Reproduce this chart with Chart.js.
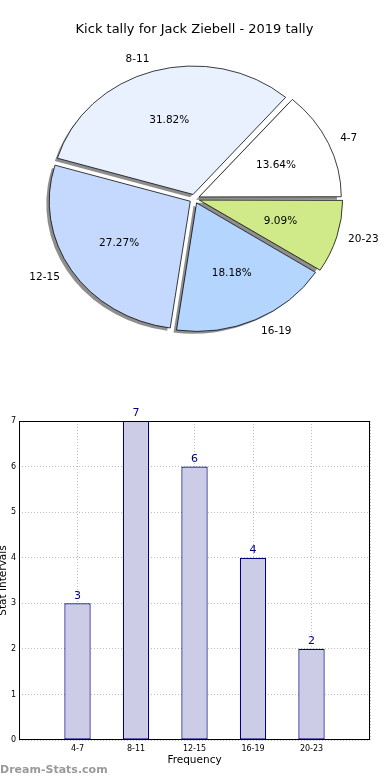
<!DOCTYPE html>
<html>
<head>
<meta charset="utf-8">
<script src="https://cdn.jsdelivr.net/npm/chart.js@4/dist/chart.umd.min.js"></script>
<style>
  body { margin: 0; background: #fff; width: 390px; height: 780px; position: relative; overflow: hidden; }
  #pieBox { position: absolute; left: 0; top: 0; width: 390px; height: 400px; }
  #barBox { position: absolute; left: 0; top: 400px; width: 390px; height: 380px; }
  #mark { position: absolute; left: 0; top: 763px; font: bold 11px "DejaVu Sans", sans-serif; color: #9a9a9a; }
</style>
</head>
<body>
<div id="pieBox"><canvas id="pieChart" width="390" height="400"></canvas></div>
<div id="barBox"><canvas id="barChart" width="390" height="380"></canvas></div>
<div id="mark">Dream-Stats.com</div>
<script>
// ---- data ----
const intervals = ['4-7', '8-11', '12-15', '16-19', '20-23'];
const tallies = [3, 7, 6, 4, 2];
const pieColors = ['#ffffff', '#eaf1fe', '#c5d9fe', '#b4d6fe', '#d0ea8a'];
const yTicks = [0, 1, 2, 3, 4, 5, 6, 7];

const FONT = '"DejaVu Sans", sans-serif';
const total = tallies.reduce((a, b) => a + b, 0);

// pie goes counter-clockwise from east, chart.js goes clockwise -> reverse
const pieLabels = intervals.slice().reverse();
const pieValues = tallies.slice().reverse();
const pieBg = pieColors.slice().reverse();

const squash = 0.908;   // pie is drawn a bit flat
const explode = 20;     // chart.js moves the arc by offset/4

// shadows + flattening for the pie
const pieDecor = {
    id: 'pieDecor',
    beforeDatasetsDraw(chart) {
        const ctx = chart.ctx;
        const arcs = chart.getDatasetMeta(0).data;
        const cx = arcs[0].x, cy = arcs[0].y;
        ctx.save();
        ctx.translate(cx, cy);
        ctx.scale(1, squash);
        ctx.translate(-cx, -cy);
        // shadows under every wedge
        ctx.save();
        ctx.translate(-3, 3);
        ctx.fillStyle = '#8e8e8e';
        arcs.forEach(a => {
            const mid = (a.startAngle + a.endAngle) / 2;
            const o = explode / 4;
            const x = a.x + Math.cos(mid) * o, y = a.y + Math.sin(mid) * o;
            ctx.beginPath();
            ctx.moveTo(x, y);
            ctx.arc(x, y, a.outerRadius, a.startAngle, a.endAngle);
            ctx.closePath();
            ctx.fill();
        });
        ctx.restore();
    },
    afterDatasetsDraw(chart) {
        const ctx = chart.ctx;
        ctx.restore();
        const arcs = chart.getDatasetMeta(0).data;
        ctx.save();
        ctx.fillStyle = '#000';
        ctx.textBaseline = 'middle';
        arcs.forEach((a, i) => {
            const mid = (a.startAngle + a.endAngle) / 2;
            const o = explode / 4;
            const pos = k => ({
                x: a.x + (a.outerRadius * k + o) * Math.cos(mid),
                y: a.y + (a.outerRadius * k + o) * Math.sin(mid) * squash
            });
            ctx.font = '10.5px ' + FONT;
            const p = pos(0.6);
            ctx.textAlign = 'center';
            ctx.fillText((pieValues[i] / total * 100).toFixed(2) + '%', p.x, p.y);
            const l = pos(1.1);
            ctx.textAlign = Math.cos(mid) >= 0 ? 'left' : 'right';
            ctx.fillText(pieLabels[i], l.x, l.y);
        });
        ctx.restore();
    }
};

new Chart(document.getElementById('pieChart'), {
    type: 'pie',
    data: {
        labels: pieLabels,
        datasets: [{
            data: pieValues,
            backgroundColor: pieBg,
            borderColor: '#000',
            borderWidth: 0.8,
            borderJoinStyle: 'miter',
            offset: explode
        }]
    },
    options: {
        responsive: false,
        animation: false,
        devicePixelRatio: 1,
        rotation: 90,
        radius: 141,
        layout: { padding: { left: 0, right: 1, top: 0, bottom: 49 } },
        plugins: {
            legend: { display: false },
            tooltip: { enabled: false },
            title: {
                display: true,
                text: 'Kick tally for Jack Ziebell - 2019 tally',
                color: '#000',
                font: { family: FONT, size: 13, weight: 'normal' },
                padding: { top: 22, bottom: 9 }
            }
        }
    },
    plugins: [pieDecor]
});

// frame + value labels for the bars
const barDecor = {
    id: 'barDecor',
    afterDatasetsDraw(chart) {
        const ctx = chart.ctx;
        const a = chart.chartArea;
        ctx.save();
        ctx.strokeStyle = '#000';
        ctx.lineWidth = 1;
        ctx.strokeRect(Math.round(a.left) + 0.5, Math.round(a.top) + 0.5, Math.round(a.right - a.left) - 1, Math.round(a.bottom - a.top) - 1);
        ctx.fillStyle = '#000080';
        ctx.font = '11px ' + FONT;
        ctx.textAlign = 'center';
        ctx.textBaseline = 'bottom';
        chart.getDatasetMeta(0).data.forEach((bar, i) => {
            ctx.fillText(String(tallies[i]), bar.x, bar.y - 2);
        });
        ctx.restore();
    }
};

new Chart(document.getElementById('barChart'), {
    type: 'bar',
    data: {
        datasets: [{
            data: tallies.map((v, i) => ({ x: i, y: v })),
            backgroundColor: '#cccce6',
            borderColor: '#000080',
            borderWidth: 1.2,
            borderSkipped: false,
            barPercentage: 0.45,
            categoryPercentage: 1
        }]
    },
    options: {
        responsive: false,
        animation: false,
        devicePixelRatio: 1,
        layout: { padding: { left: 0, right: 20, top: 21, bottom: 0 } },
        plugins: { legend: { display: false }, tooltip: { enabled: false } },
        scales: {
            x: {
                type: 'linear',
                offset: false,
                min: -1,
                max: 5,
                ticks: {
                    stepSize: 1,
                    autoSkip: false,
                    padding: 4,
                    color: '#000',
                    font: { family: FONT, size: 8 },
                    callback: v => intervals[v] || ''
                },
                grid: { color: '#bdbdbd', drawTicks: false, offset: false },
                border: { display: false, dash: [1, 2] },
                title: {
                    display: true,
                    text: 'Frequency',
                    color: '#000',
                    font: { family: FONT, size: 10.5 },
                    padding: { top: 0, bottom: 13 }
                },
                afterFit: s => { s.height = 40; }
            },
            y: {
                min: 0,
                max: 7,
                afterBuildTicks: s => { s.ticks = yTicks.map(v => ({ value: v })); },
                ticks: {
                    padding: 3,
                    color: '#000',
                    font: { family: FONT, size: 8 }
                },
                grid: { color: '#bdbdbd', drawTicks: false },
                border: { display: false, dash: [1, 2] },
                title: {
                    display: true,
                    text: 'Stat Intervals',
                    color: '#000',
                    font: { family: FONT, size: 10.5 },
                    padding: { top: -3, bottom: 0 }
                },
                afterFit: s => { s.width = 19; }
            }
        }
    },
    plugins: [barDecor]
});
</script>
</body>
</html>
